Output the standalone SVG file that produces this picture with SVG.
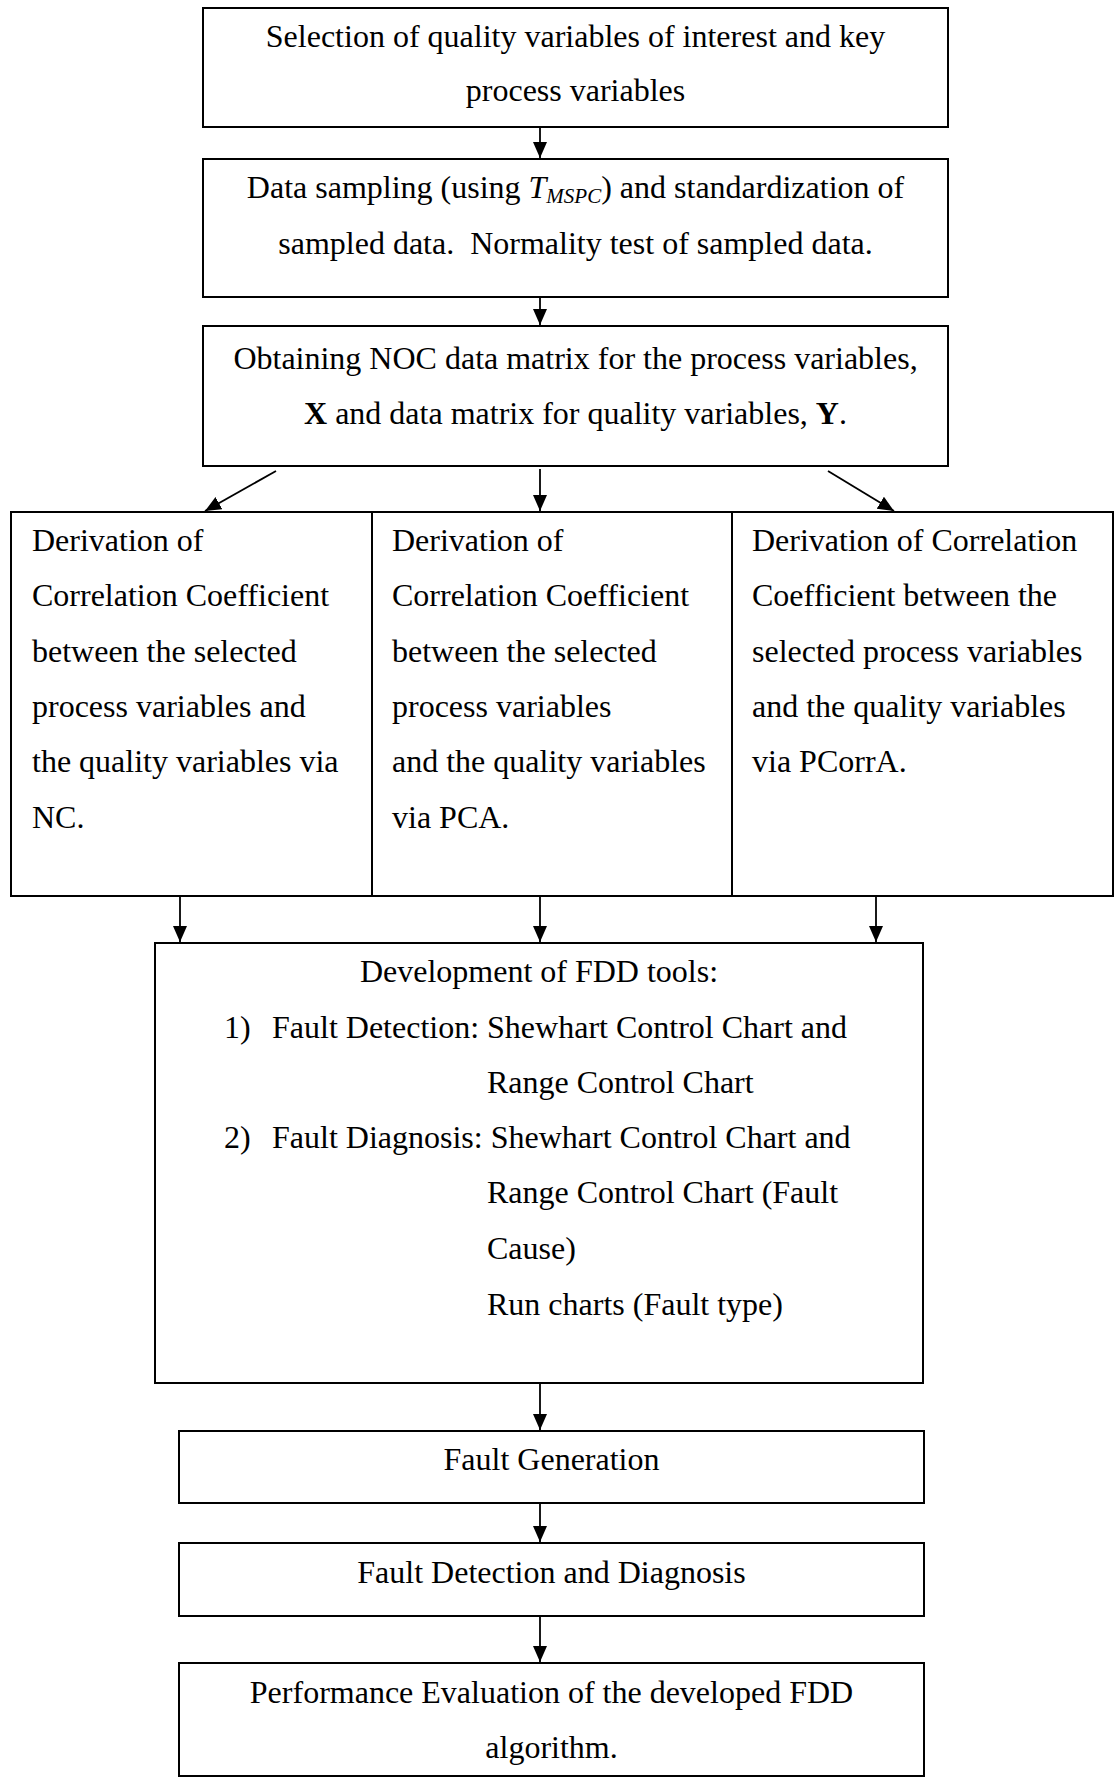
<svg xmlns="http://www.w3.org/2000/svg" width="1114" height="1777" viewBox="0 0 1114 1777">
  <style>
    .box { fill: #ffffff; stroke: #000000; stroke-width: 2; }
    .t { font-family: "Liberation Serif", "Times New Roman", serif; font-size: 32px; fill: #000000; }
    .c { text-anchor: middle; }
    .edge { stroke: #000000; stroke-width: 1.8; fill: none; marker-end: url(#arrow); }
  </style>
  <defs>
    <marker id="arrow" markerUnits="userSpaceOnUse" markerWidth="17" markerHeight="15" refX="16" refY="7" orient="auto">
      <path d="M0,0 L16,7 L0,14 z" fill="#000000"/>
    </marker>
  </defs>
  <rect x="0" y="0" width="1114" height="1777" fill="#ffffff"/>

  <!-- process steps -->
  <g id="node-selection">
    <rect class="box" x="203" y="8" width="745" height="119"/>
    <text class="t c" x="575.5" y="47">Selection of quality variables of interest and key</text>
    <text class="t c" x="575.5" y="101">process variables</text>
  </g>

  <g id="node-sampling">
    <rect class="box" x="203" y="159" width="745" height="138"/>
    <text class="t c" x="575.5" y="198">Data sampling (using <tspan font-style="italic">T</tspan><tspan font-style="italic" font-size="21" dy="5">MSPC</tspan><tspan dy="-5">) and standardization of</tspan></text>
    <text class="t c" x="575.5" y="254">sampled data.&#160; Normality test of sampled data.</text>
  </g>

  <g id="node-noc">
    <rect class="box" x="203" y="326" width="745" height="140"/>
    <text class="t c" x="575.5" y="369">Obtaining NOC data matrix for the process variables,</text>
    <text class="t c" x="575.5" y="424"><tspan font-weight="bold">X</tspan> and data matrix for quality variables, <tspan font-weight="bold">Y</tspan>.</text>
  </g>

  <g id="node-nc">
    <rect class="box" x="11" y="512" width="361" height="384"/>
    <text class="t" x="32" y="551">Derivation of</text>
    <text class="t" x="32" y="606">Correlation Coefficient</text>
    <text class="t" x="32" y="662">between the selected</text>
    <text class="t" x="32" y="717">process variables and</text>
    <text class="t" x="32" y="772">the quality variables via</text>
    <text class="t" x="32" y="828">NC.</text>
  </g>

  <g id="node-pca">
    <rect class="box" x="372" y="512" width="360" height="384"/>
    <text class="t" x="392" y="551">Derivation of</text>
    <text class="t" x="392" y="606">Correlation Coefficient</text>
    <text class="t" x="392" y="662">between the selected</text>
    <text class="t" x="392" y="717">process variables</text>
    <text class="t" x="392" y="772">and the quality variables</text>
    <text class="t" x="392" y="828">via PCA.</text>
  </g>

  <g id="node-pcorra">
    <rect class="box" x="732" y="512" width="381" height="384"/>
    <text class="t" x="752" y="551">Derivation of Correlation</text>
    <text class="t" x="752" y="606">Coefficient between the</text>
    <text class="t" x="752" y="662">selected process variables</text>
    <text class="t" x="752" y="717">and the quality variables</text>
    <text class="t" x="752" y="772">via PCorrA.</text>
  </g>

  <g id="node-fdd-tools">
    <rect class="box" x="155" y="943" width="768" height="440"/>
    <text class="t c" x="539" y="982">Development of FDD tools:</text>
    <text class="t" x="224" y="1038">1)</text>
    <text class="t" x="272" y="1038">Fault Detection: Shewhart Control Chart and</text>
    <text class="t" x="487" y="1093">Range Control Chart</text>
    <text class="t" x="224" y="1148">2)</text>
    <text class="t" x="272" y="1148">Fault Diagnosis: Shewhart Control Chart and</text>
    <text class="t" x="487" y="1203">Range Control Chart (Fault</text>
    <text class="t" x="487" y="1259">Cause)</text>
    <text class="t" x="487" y="1315">Run charts (Fault type)</text>
  </g>

  <g id="node-fault-generation">
    <rect class="box" x="179" y="1431" width="745" height="72"/>
    <text class="t c" x="551.5" y="1470">Fault Generation</text>
  </g>

  <g id="node-fdd">
    <rect class="box" x="179" y="1543" width="745" height="73"/>
    <text class="t c" x="551.5" y="1583">Fault Detection and Diagnosis</text>
  </g>

  <g id="node-evaluation">
    <rect class="box" x="179" y="1663" width="745" height="113"/>
    <text class="t c" x="551.5" y="1703">Performance Evaluation of the developed FDD</text>
    <text class="t c" x="551.5" y="1758">algorithm.</text>
  </g>

  <!-- flow connectors -->
  <g id="connectors">
    <line class="edge" x1="540" y1="127" x2="540" y2="158"/>
    <line class="edge" x1="540" y1="297" x2="540" y2="325"/>
    <line class="edge" x1="276" y1="471" x2="205" y2="511"/>
    <line class="edge" x1="540" y1="469" x2="540" y2="511"/>
    <line class="edge" x1="828" y1="471" x2="894" y2="511"/>
    <line class="edge" x1="180" y1="896" x2="180" y2="942"/>
    <line class="edge" x1="540" y1="896" x2="540" y2="942"/>
    <line class="edge" x1="876" y1="896" x2="876" y2="942"/>
    <line class="edge" x1="540" y1="1383" x2="540" y2="1430"/>
    <line class="edge" x1="540" y1="1503" x2="540" y2="1542"/>
    <line class="edge" x1="540" y1="1616" x2="540" y2="1662"/>
  </g>
</svg>
